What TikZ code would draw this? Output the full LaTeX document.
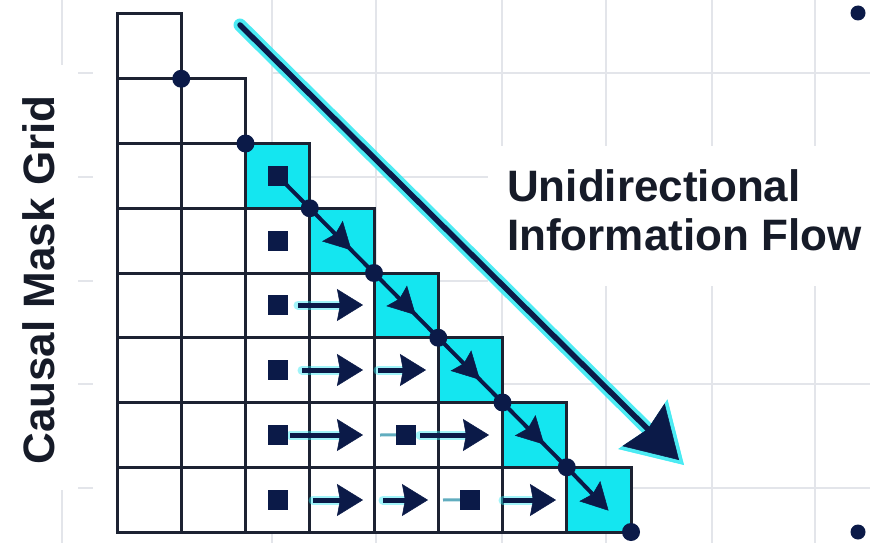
\documentclass[tikz,border=0pt]{standalone}
\usepackage{fontspec}
\setmainfont{Liberation Sans}
\usetikzlibrary{arrows.meta,decorations.markings,calc}

\definecolor{navy}{HTML}{0B1A48}
\definecolor{gridink}{HTML}{1C2232}
\definecolor{maskcyan}{HTML}{14E6F0}
\definecolor{glowcyan}{HTML}{2FE8F2}
\definecolor{faintline}{HTML}{E3E5EA}
\definecolor{ink}{HTML}{161B28}

\begin{document}
\begin{tikzpicture}[x=1pt, y=-1pt,
  bgline/.style={faintline, line width=1.5pt},
  cellline/.style={draw=gridink, line width=3pt},
  cornerdot/.style={circle, fill=navy, inner sep=0pt, minimum size=18pt},
  edgedot/.style={circle, fill=navy, inner sep=0pt, minimum size=15pt},
  sqmark/.style={rectangle, fill=navy, inner sep=0pt, minimum size=20pt},
  hglow/.style={glowcyan, opacity=0.45, line width=9pt, line cap=round},
  harrow/.style={navy, line width=5pt, -{Stealth[length=26pt, width=32pt, inset=3pt, line width=0.5pt]}},
  faintlink/.style={navy!45!glowcyan, opacity=0.7, line width=3pt},
  diagseg/.style={navy, line width=4pt, postaction={decorate},
    decoration={markings, mark=at position 0.65 with {\arrow{Stealth[length=27pt, width=29pt, inset=4pt, line width=0.5pt]}}}},
  label/.style={font=\fontsize{44pt}{50pt}\selectfont\bfseries, text=ink, inner sep=0pt}
]
\useasboundingbox (0,0) rectangle (870,543);
\fill[white] (0,0) rectangle (870,543);

% faint background grid
\foreach \xx in {272,376,502,606,712,815} \draw[bgline] (\xx,0) -- (\xx,543);
\foreach \yy in {73,177,281,384,488} {
  \draw[bgline] (272,\yy) -- (870,\yy);
  \draw[bgline] (78,\yy) -- (93,\yy);
}
\draw[bgline] (62,0) -- (62,65);
\draw[bgline] (62,490) -- (62,543);

% clear space behind the flow label
\fill[white] (488,146) rectangle (870,286);

% lower-triangular mask
\begin{scope}[shift={(117,14)}, x=64.25pt, y=-64.75pt]
  \foreach \r in {1,...,8}
    \foreach \c in {1,...,\r}
      \fill[white] (\c-1,\r-1) rectangle (\c,\r);
  \foreach \k in {3,...,8}
    \fill[maskcyan] (\k-1,\k-1) rectangle (\k,\k);
  \foreach \r in {1,...,8}
    \foreach \c in {1,...,\r}
      \draw[cellline] (\c-1,\r-1) rectangle (\c,\r);
  \foreach \k in {1,...,8}
    \coordinate (p\k) at (\k,\k);
  \coordinate (tip8) at (7.65,7.67);
  \foreach \r in {3,...,8}
    \coordinate (s\r3) at (2.5,\r-0.5);
  \coordinate (s75) at (4.5,6.5);
  \coordinate (s86) at (5.5,7.5);
\end{scope}

% diagonal flow through the cyan cells
\draw[navy, line width=4pt] (s33) -- (p3);
\foreach \a/\b in {3/4,4/5,5/6,6/7}
  \draw[diagseg] (p\a) -- (p\b);
\draw[navy, line width=4pt, -{Stealth[length=27pt, width=29pt, inset=4pt, line width=0.5pt]}] (p7) -- (tip8);

% row-wise arrows
\foreach \yy/\xa/\xb [count=\n] in {305/298/363, 370/302/363, 370/378/426, 435/290/363,
                                    435/420/489, 500/313/363, 500/383/428, 500/503/556} {
  \coordinate (h\n a) at (\xa,\yy);
  \coordinate (h\n b) at (\xb,\yy);
  \draw[hglow] (h\n a) -- ($(h\n b)+(-16,0)$);
  \draw[harrow] (h\n a) -- (h\n b);
}
\coordinate (f7) at (380,435);
\coordinate (f8) at (443,500);
\draw[faintlink] (f7) -- (s75);
\draw[faintlink] (f8) -- (s86);

% square markers
\foreach \r in {3,...,8} \node[sqmark] (sq\r3) at (s\r3) {};
\node[sqmark] (sq75) at (s75) {};
\node[sqmark] (sq86) at (s86) {};

% corner dots along the diagonal
\foreach \k in {1,...,8} \node[cornerdot] (d\k) at (p\k) {};

% edge dots
\node[edgedot] (dtop) at (858,13) {};
\node[edgedot] (dbot) at (858,532) {};

% big glowing flow arrow
\coordinate (bigs) at (240,25);
\coordinate (bige) at (684,465);
\coordinate (bigtip) at (679,460);
\draw[glowcyan, opacity=0.85, line width=13pt, line cap=round,
      -{Stealth[length=58pt, width=70pt, inset=7pt, line width=0.5pt]}] (bigs) -- (bige);
\draw[navy, line width=5.5pt, line cap=round,
      -{Stealth[length=50pt, width=60pt, inset=6pt, line width=0.5pt]}] (bigs) -- (bigtip);

% labels
\node[label, rotate=90, anchor=base] (masklabel) at (54,280) {Causal Mask Grid};
\node[label, anchor=base west] (flow1) at (507,201) {Unidirectional};
\node[label, anchor=base west] (flow2) at (507,250) {Information Flow};
\end{tikzpicture}
\end{document}
